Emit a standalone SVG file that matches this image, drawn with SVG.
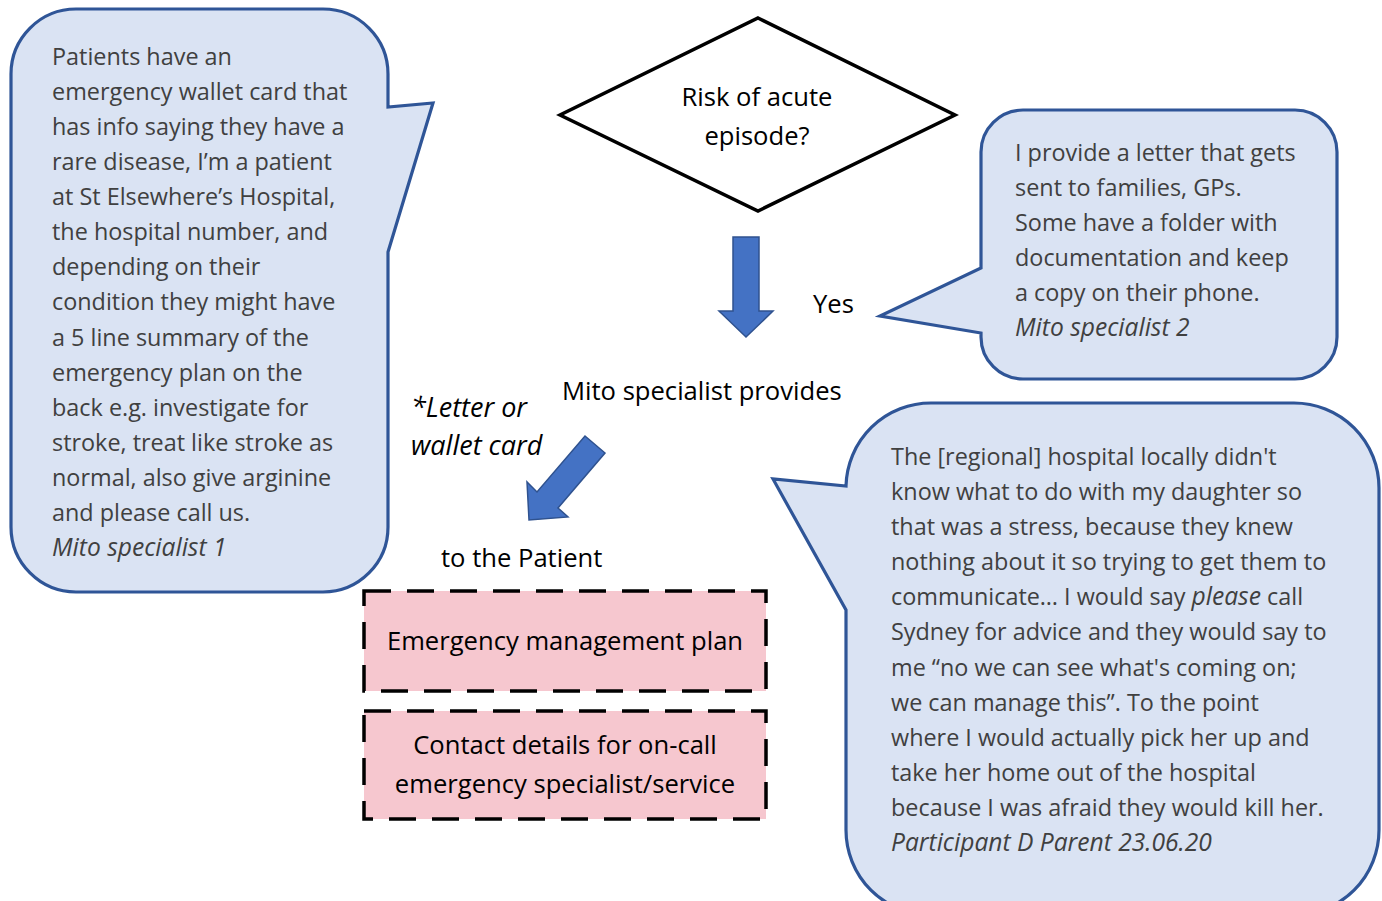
<svg xmlns="http://www.w3.org/2000/svg" width="1382" height="901" viewBox="0 0 1382 901">
<style>
.callout{fill:#DAE3F3;stroke:#2F5597;stroke-width:3.2;stroke-linejoin:miter}
.ct{font-family:"Open Sans",Lato,sans-serif;font-size:23.4px;fill:#404040}
.ct .it{font-size:24.6px}
.ft{font-family:"Open Sans",Lato,sans-serif;font-size:25.6px;fill:#000}
.it{font-style:italic}
.ft.it{font-size:27px}
.box{fill:#F6C7CF;stroke:#000;stroke-width:3.5;stroke-dasharray:27 16}
.arrow{fill:#4472C4;stroke:#2F528F;stroke-width:1.5}
</style>
<rect width="1382" height="901" fill="#fff"/>

<g id="callout-left">
<path class="callout" d="M76,9 H323 A65,65 0 0 1 388,74 V107 L433,103 L388,252 V527 A65,65 0 0 1 323,592 H76 A65,65 0 0 1 11,527 V74 A65,65 0 0 1 76,9 Z"/>
<text class="ct" x="52">
<tspan x="52" y="65">Patients have an</tspan>
<tspan x="52" y="100">emergency wallet card that</tspan>
<tspan x="52" y="135">has info saying they have a</tspan>
<tspan x="52" y="170">rare disease, I’m a patient</tspan>
<tspan x="52" y="205">at St Elsewhere’s Hospital,</tspan>
<tspan x="52" y="240">the hospital number, and</tspan>
<tspan x="52" y="275">depending on their</tspan>
<tspan x="52" y="310">condition they might have</tspan>
<tspan x="52" y="346">a 5 line summary of the</tspan>
<tspan x="52" y="381">emergency plan on the</tspan>
<tspan x="52" y="416">back e.g. investigate for</tspan>
<tspan x="52" y="451">stroke, treat like stroke as</tspan>
<tspan x="52" y="486">normal, also give arginine</tspan>
<tspan x="52" y="521">and please call us.</tspan>
<tspan x="52" y="556" class="it">Mito specialist 1</tspan>
</text>
</g>

<g id="decision">
<polygon points="758,18 955,115 758,211 560,115" fill="#fff" stroke="#000" stroke-width="3.5"/>
<text class="ft" text-anchor="middle"><tspan x="757" y="106">Risk of acute</tspan><tspan x="757" y="145">episode?</tspan></text>
</g>

<g id="callout-top-right">
<path class="callout" d="M1023,110 H1295 A42,42 0 0 1 1337,152 V337 A42,42 0 0 1 1295,379 H1023 A42,42 0 0 1 981,337 V333 L880,316 L981,268 V152 A42,42 0 0 1 1023,110 Z"/>
<text class="ct">
<tspan x="1015" y="161">I provide a letter that gets</tspan>
<tspan x="1015" y="196">sent to families, GPs.</tspan>
<tspan x="1015" y="231">Some have a folder with</tspan>
<tspan x="1015" y="266">documentation and keep</tspan>
<tspan x="1015" y="301">a copy on their phone.</tspan>
<tspan x="1015" y="336" class="it">Mito specialist 2</tspan>
</text>
</g>

<g id="label-yes"><text class="ft" x="813" y="313">Yes</text></g>
<g id="label-provides"><text class="ft" x="562" y="400">Mito specialist provides</text></g>
<g id="label-letter"><text class="ft it"><tspan x="411" y="417">*Letter or</tspan><tspan x="411" y="455">wallet card</tspan></text></g>
<g id="label-patient"><text class="ft" x="441" y="567">to the Patient</text></g>

<g id="callout-bottom-right">
<path class="callout" d="M931,403 H1294 A85,85 0 0 1 1379,488 V830 A85,85 0 0 1 1294,915 H931 A85,85 0 0 1 846,830 V610 L773,479 L846,486 A85,85 0 0 1 931,403 Z"/>
<text class="ct">
<tspan x="891" y="465">The [regional] hospital locally didn't</tspan>
<tspan x="891" y="500">know what to do with my daughter so</tspan>
<tspan x="891" y="535">that was a stress, because they knew</tspan>
<tspan x="891" y="570">nothing about it so trying to get them to</tspan>
<tspan x="891" y="605">communicate… I would say <tspan class="it">please</tspan> call</tspan>
<tspan x="891" y="640">Sydney for advice and they would say to</tspan>
<tspan x="891" y="676">me “no we can see what's coming on;</tspan>
<tspan x="891" y="711">we can manage this”. To the point</tspan>
<tspan x="891" y="746">where I would actually pick her up and</tspan>
<tspan x="891" y="781">take her home out of the hospital</tspan>
<tspan x="891" y="816">because I was afraid they would kill her.</tspan>
<tspan x="891" y="851" class="it">Participant D Parent 23.06.20</tspan>
</text>
</g>

<g id="box-plan">
<rect class="box" x="364" y="591" width="402" height="100"/>
<text class="ft" x="565" y="650" text-anchor="middle">Emergency management plan</text>
</g>

<g id="box-contact">
<rect class="box" x="364" y="711" width="402" height="108"/>
<text class="ft" text-anchor="middle"><tspan x="565" y="754">Contact details for on-call</tspan><tspan x="565" y="793">emergency specialist/service</tspan></text>
</g>

<g id="connectors">
<polygon class="arrow" points="733,237 759,237 759,311 773,311 746,337 719,311 733,311"/>
<polygon class="arrow" points="585,436 605,453 558,508 568,517 529,520 527,482 537,492"/>
</g>
</svg>
